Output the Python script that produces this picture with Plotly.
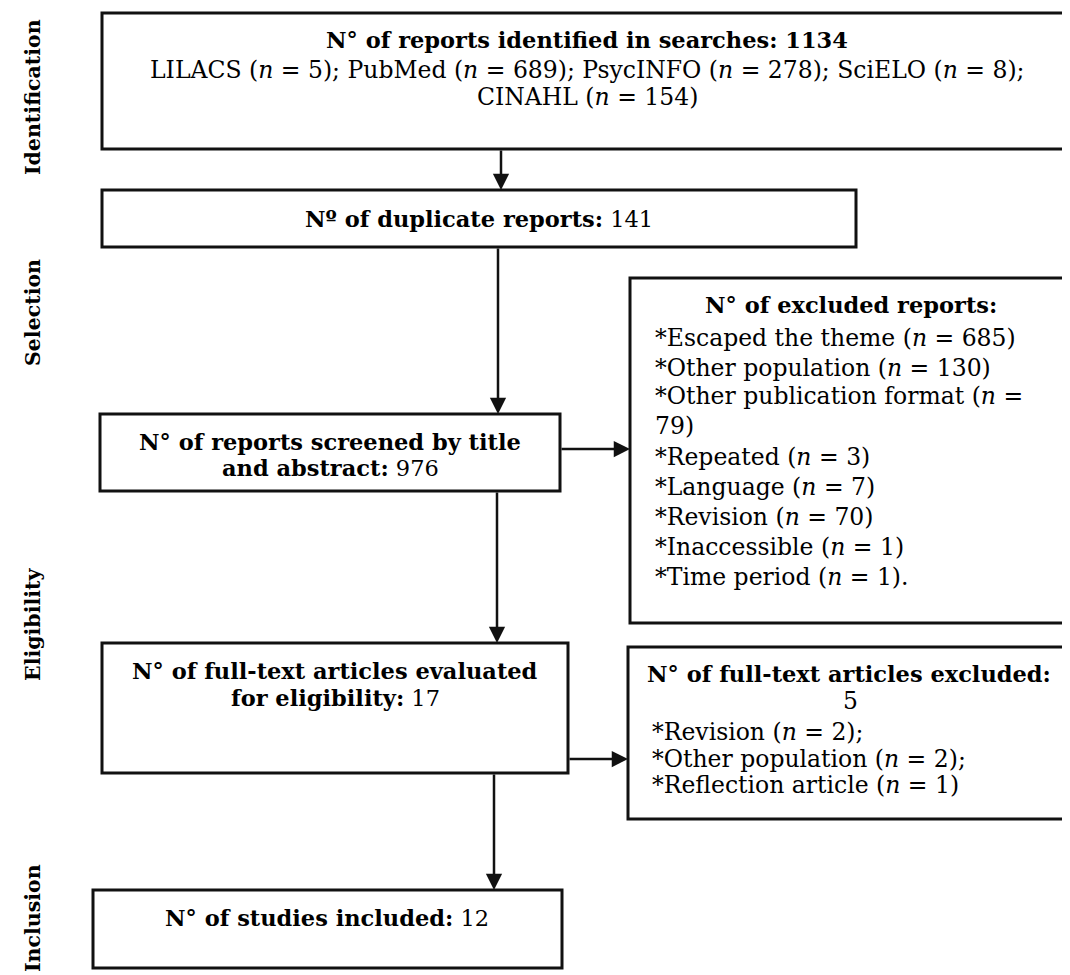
import plotly.graph_objects as go

# ---------------- data ----------------
stages = ["Identification", "Selection", "Eligibility", "Inclusion"]
sources = ["LILACS", "PubMed", "PsycINFO", "SciELO", "CINAHL"]
source_n = [5, 689, 278, 8, 154]
total_identified = 1134
duplicates = 141
screened = 976
excluded_reasons = ["Escaped the theme", "Other population", "Other publication format",
                    "Repeated", "Language", "Revision", "Inaccessible", "Time period"]
excluded_n = [685, 130, 79, 3, 7, 70, 1, 1]
fulltext_evaluated = 17
fulltext_excluded = 5
ft_reasons = ["Revision", "Other population", "Reflection article"]
ft_n = [2, 2, 1]
included = 12

# ---------------- layout helpers ----------------
W, H = 1070, 975
PAGE_MARGIN = 8  # default body margin of the html page
FONT = "DejaVu Serif"
REG = 23.5
BOLD = 22.5
BLACK = "#000000"
RIGHT = 1065

fig = go.Figure()
annotations = []
shapes = []


def nfmt(k):
    return f"(<i>n</i> = {k})"


def box(x0, x1, y0, y1):
    shapes.append(dict(type="rect", xref="x", yref="y", x0=x0, x1=x1, y0=y0, y1=y1,
                       line=dict(color="#111111", width=3), fillcolor="rgba(0,0,0,0)"))


def text(x, y, s, anchor="center", size=REG):
    annotations.append(dict(x=x, y=y, xref="x", yref="y", text=s, showarrow=False,
                            xanchor=anchor, yanchor="middle",
                            font=dict(family=FONT, size=size, color=BLACK)))


def arrow(x0, y0, x1, y1):
    annotations.append(dict(x=x1, y=y1, ax=x0, ay=y0, xref="x", yref="y", axref="x", ayref="y",
                            text="", showarrow=True, arrowhead=2, arrowsize=1.3,
                            arrowwidth=2.5, arrowcolor="#111111", standoff=0))


# stage labels (rotated)
stage_y = [97, 313, 625, 918]
for lab, yy in zip(stages, stage_y):
    annotations.append(dict(x=33, y=yy, xref="x", yref="y", text=f"<b>{lab}</b>",
                            showarrow=False, textangle=-90, xanchor="center", yanchor="middle",
                            font=dict(family=FONT, size=20.5, color=BLACK)))

# Box 1: identified
box(102, RIGHT, 13, 149)
text(587, 40, f"<b>N° of reports identified in searches: {total_identified}</b>", size=BOLD)
parts = [f"{s} {nfmt(k)}" for s, k in zip(sources, source_n)]
text(587, 70, "; ".join(parts[:4]) + ";")
text(587, 97, parts[4])

# Box 2: duplicates
box(102, 856, 190, 247)
text(479, 219, f"<b>Nº of duplicate reports:</b> {duplicates}", size=BOLD)

# Box 3: screened
box(100, 560, 414, 491)
text(330, 442, "<b>N° of reports screened by title</b>", size=BOLD)
text(330, 468, f"<b>and abstract:</b> {screened}", size=BOLD)

# Box 4: excluded reports
box(630, RIGHT, 278, 623)
text(851, 305, "<b>N° of excluded reports:</b>", size=BOLD)
ex_lines = []
for i, (r, k) in enumerate(zip(excluded_reasons, excluded_n)):
    end = "." if i == len(excluded_reasons) - 1 else ""
    plain = f"*{r} (n = {k}){end}"
    if len(plain) > 30:
        cut = plain.rfind(" ", 0, 31)
        first, second = plain[:cut], plain[cut + 1:]
        ex_lines.append(first.replace("(n", "(<i>n</i>"))
        ex_lines.append(second)
    else:
        ex_lines.append(f"*{r} {nfmt(k)}{end}")
ex_y = [338, 368, 396, 426, 457, 487, 517, 547, 577]
for s, yy in zip(ex_lines, ex_y):
    text(653, yy, s, anchor="left")

# Box 5: full-text evaluated
box(102, 568, 643, 773)
text(335, 671, "<b>N° of full-text articles evaluated</b>", size=BOLD)
text(335, 698, f"<b>for eligibility:</b> {fulltext_evaluated}", size=BOLD)

# Box 6: full-text excluded
box(628, RIGHT, 647, 819)
text(849, 674, "<b>N° of full-text articles excluded:</b>", size=BOLD)
text(850, 701, f"{fulltext_excluded}")
ft_y = [732, 759, 785]
for i, (r, k, yy) in enumerate(zip(ft_reasons, ft_n, ft_y)):
    end = ";" if i < len(ft_reasons) - 1 else ""
    text(650, yy, f"*{r} {nfmt(k)}{end}", anchor="left")

# Box 7: included
box(93, 562, 890, 968)
text(327, 918, f"<b>N° of studies included:</b> {included}", size=BOLD)

# arrows
arrow(501, 149, 501, 190)
arrow(498, 247, 498, 414)
arrow(560, 449, 630, 449)
arrow(497, 491, 497, 643)
arrow(568, 759, 628, 759)
arrow(494, 773, 494, 890)

# axis ranges chosen so that data units equal page pixels despite the page margin
fig.update_layout(
    width=W - PAGE_MARGIN, height=H - PAGE_MARGIN,
    margin=dict(l=0, r=0, t=0, b=0),
    paper_bgcolor="white", plot_bgcolor="white",
    xaxis=dict(range=[PAGE_MARGIN, W], visible=False, fixedrange=True),
    yaxis=dict(range=[H, PAGE_MARGIN], visible=False, fixedrange=True),
    shapes=shapes, annotations=annotations, showlegend=False,
)
fig.write_html("out.html")
